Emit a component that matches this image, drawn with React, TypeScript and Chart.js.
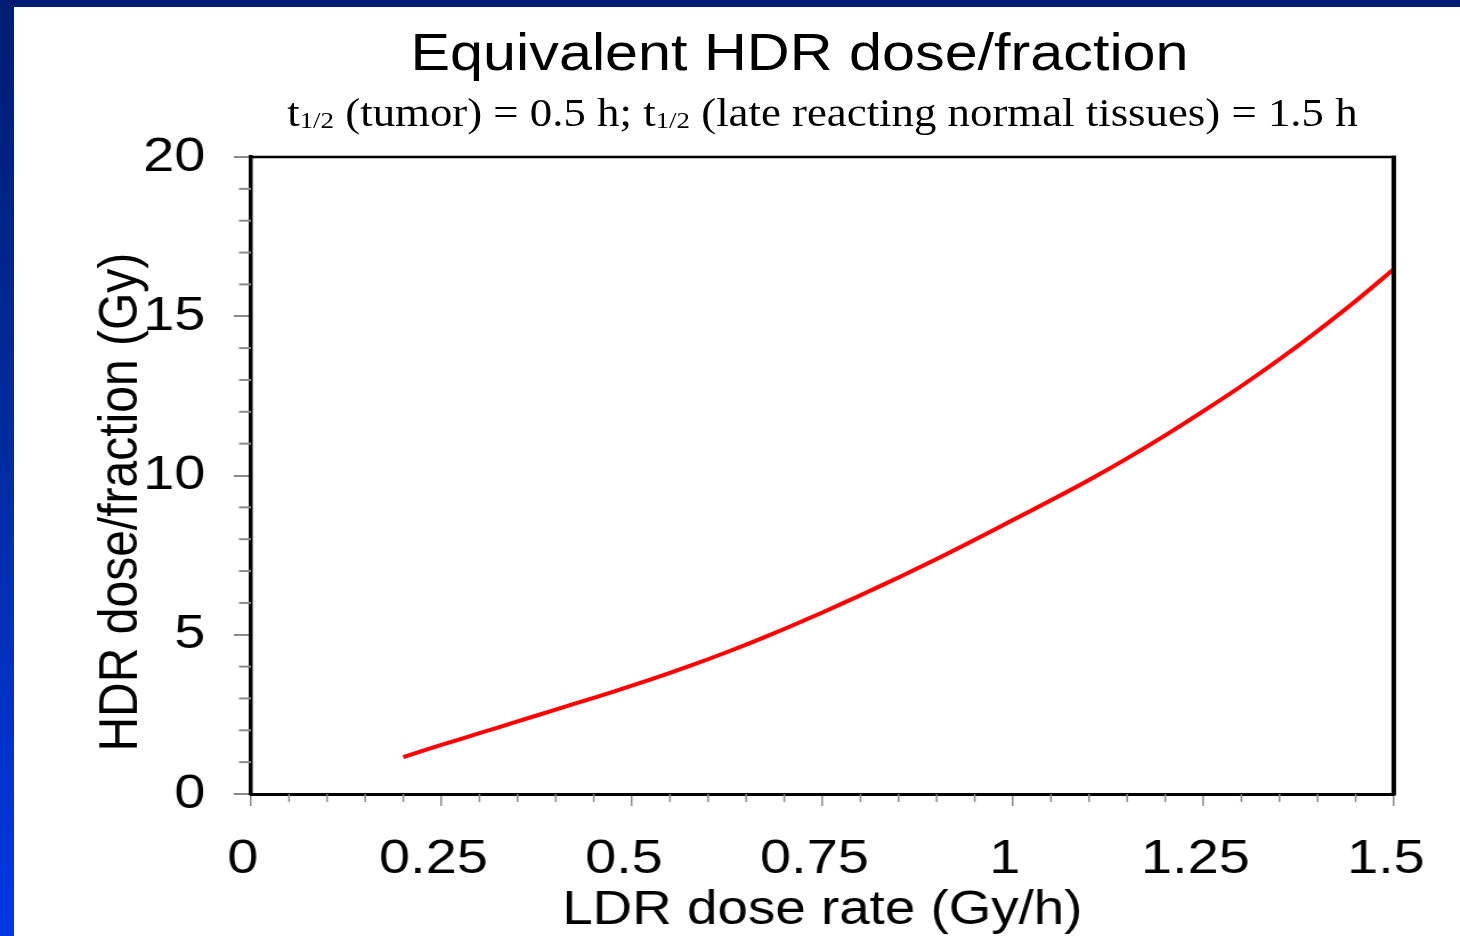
import React, { useEffect, useRef } from 'react';
import { Chart, registerables } from 'chart.js';

Chart.register(...registerables);

// ---- data ----
const LDR_DOSE_RATE = [
  0.2, 0.25, 0.3, 0.35, 0.4, 0.45, 0.5, 0.55, 0.6, 0.65, 0.7, 0.75, 0.8, 0.85,
  0.9, 0.95, 1.0, 1.05, 1.1, 1.15, 1.2, 1.25, 1.3, 1.35, 1.4, 1.45, 1.5,
];
const HDR_DOSE_PER_FRACTION = [
  1.16, 1.54, 1.91, 2.28, 2.65, 3.02, 3.4, 3.8, 4.23, 4.69, 5.18, 5.7, 6.24, 6.8,
  7.38, 7.98, 8.6, 9.22, 9.86, 10.54, 11.26, 12.02, 12.81, 13.65, 14.54, 15.48, 16.48,
];
const X_TICKS = [0, 0.25, 0.5, 0.75, 1, 1.25, 1.5];
const X_TICK_LABELS = ['0', '0.25', '0.5', '0.75', '1', '1.25', '1.5'];
const X_MINOR_TICKS = [
  0.05, 0.1, 0.15, 0.2, 0.3, 0.35, 0.4, 0.45, 0.55, 0.6, 0.65, 0.7, 0.8, 0.85,
  0.9, 0.95, 1.05, 1.1, 1.15, 1.2, 1.3, 1.35, 1.4, 1.45,
];
const Y_TICKS = [0, 5, 10, 15, 20];
const Y_TICK_LABELS = ['0', '5', '10', '15', '20'];
const Y_MINOR_TICKS = [1, 2, 3, 4, 6, 7, 8, 9, 11, 12, 13, 14, 16, 17, 18, 19];

const TITLE = 'Equivalent HDR dose/fraction';
const X_TITLE = 'LDR dose rate (Gy/h)';
const Y_TITLE = 'HDR dose/fraction (Gy)';

// ---- layout ----
const PAGE_W = 1460;
const PAGE_H = 936;
const INNER_W = 1280;
const STRETCH = PAGE_W / INNER_W;
const SANS = "'Liberation Sans', Arial, sans-serif";
const SERIF = "'Liberation Serif', 'Times New Roman', serif";

const framePlugin = {
  id: 'frame',
  afterDraw(chart: any) {
    const { ctx, chartArea, scales } = chart;
    const { left, right, top, bottom } = chartArea;
    const xs = scales.x;
    const ys = scales.y;
    ctx.save();
    ctx.strokeStyle = '#8a8a8a';
    ctx.lineWidth = 2;
    Y_MINOR_TICKS.forEach((v) => {
      const py = ys.getPixelForValue(v);
      ctx.beginPath();
      ctx.moveTo(left - 10.5, py);
      ctx.lineTo(left, py);
      ctx.stroke();
    });
    ctx.lineWidth = 1.5;
    X_MINOR_TICKS.forEach((v) => {
      const px = xs.getPixelForValue(v);
      ctx.beginPath();
      ctx.moveTo(px, bottom);
      ctx.lineTo(px, bottom + 8);
      ctx.stroke();
    });
    ctx.strokeStyle = '#000';
    ctx.lineWidth = 2.5;
    ctx.beginPath();
    ctx.moveTo(left, top);
    ctx.lineTo(right + 2, top);
    ctx.stroke();
    ctx.lineWidth = 4;
    ctx.beginPath();
    ctx.moveTo(right, top - 1.2);
    ctx.lineTo(right, bottom + 1.5);
    ctx.stroke();
    ctx.restore();
  },
};

export default function App() {
  const ref = useRef<HTMLCanvasElement>(null);

  useEffect(() => {
    if (!ref.current) return;
    const chart = new Chart(ref.current, {
      type: 'line',
      data: {
        datasets: [
          {
            data: LDR_DOSE_RATE.map((x, i) => ({ x, y: HDR_DOSE_PER_FRACTION[i] })),
            borderColor: '#ff0000',
            borderWidth: 4,
            pointRadius: 0,
            tension: 0.2,
            fill: false,
          },
        ],
      },
      options: {
        animation: false,
        responsive: false,
        devicePixelRatio: 1,
        layout: { padding: { left: 0, right: 58, top: 157, bottom: 0 } },
        plugins: {
          legend: { display: false },
          tooltip: { enabled: false },
          title: { display: false },
        },
        scales: {
          x: {
            type: 'linear',
            min: 0,
            max: 1.5,
            afterBuildTicks: (s: any) => {
              s.ticks = X_TICKS.map((v) => ({ value: v }));
            },
            afterFit: (s: any) => {
              s.height = 142;
            },
            ticks: {
              callback: (v: any) => X_TICK_LABELS[X_TICKS.indexOf(Number(v))],
              padding: 24,
              labelOffset: -7,
              maxRotation: 0,
              autoSkip: false,
              color: '#000',
              font: { family: SANS, size: 49 },
            },
            grid: {
              display: true,
              drawOnChartArea: false,
              drawTicks: true,
              tickLength: 12,
              color: '#8a8a8a',
              lineWidth: 1.5,
            },
            border: { display: true, color: '#000', width: 3 },
            title: {
              display: true,
              text: X_TITLE,
              color: '#000',
              font: { family: SANS, size: 48, lineHeight: 1 },
              padding: { top: 0, bottom: 1 },
            },
          },
          y: {
            type: 'linear',
            min: 0,
            max: 20,
            afterBuildTicks: (s: any) => {
              s.ticks = Y_TICKS.map((v) => ({ value: v }));
            },
            afterFit: (s: any) => {
              s.width = 220;
            },
            ticks: {
              callback: (v: any) => Y_TICK_LABELS[Y_TICKS.indexOf(Number(v))],
              padding: 25,
              color: '#000',
              font: { family: SANS, size: 49 },
            },
            grid: {
              display: true,
              drawOnChartArea: false,
              drawTicks: true,
              tickLength: 15,
              color: '#8a8a8a',
              lineWidth: 2,
            },
            border: { display: true, color: '#000', width: 3.5 },
            title: {
              display: true,
              text: Y_TITLE + '    ',
              color: '#000',
              font: { family: SANS, size: 48, lineHeight: 1.2 },
              padding: { top: 78, bottom: 0 },
            },
          },
        },
      },
      plugins: [framePlugin],
    } as any);
    return () => chart.destroy();
  }, []);

  const subStyle: React.CSSProperties = {
    fontSize: '0.6em',
    position: 'relative',
    top: '2px',
  };

  return (
    <div
      style={{
        position: 'fixed',
        left: 0,
        top: 0,
        width: PAGE_W,
        height: PAGE_H,
        overflow: 'hidden',
        background: 'linear-gradient(180deg, #001c72 0%, #002a9c 45%, #0038e4 100%)',
      }}
    >
      <div
        style={{
          position: 'absolute',
          left: 14,
          top: 7,
          right: 0,
          bottom: 0,
          background: '#ffffff',
        }}
      />
      <div
        style={{
          position: 'absolute',
          left: 0,
          top: 0,
          width: INNER_W,
          height: PAGE_H,
          transform: `scaleX(${STRETCH})`,
          transformOrigin: '0 0',
        }}
      >
        <canvas
          ref={ref}
          width={INNER_W}
          height={PAGE_H}
          style={{ position: 'absolute', left: 0, top: 0, display: 'block' }}
        />
        <div
          style={{
            position: 'absolute',
            left: 0,
            top: 26,
            width: 1402,
            textAlign: 'center',
            fontFamily: SANS,
            fontSize: 52,
            lineHeight: 1,
            color: '#000',
            whiteSpace: 'nowrap',
          }}
        >
          {TITLE}
        </div>
        <div
          style={{
            position: 'absolute',
            left: 0,
            top: 94,
            width: 1442,
            textAlign: 'center',
            fontFamily: SERIF,
            fontSize: 39.3,
            lineHeight: 1,
            color: '#000',
            whiteSpace: 'pre',
          }}
        >
          {'t'}
          <span style={subStyle}>1/2</span>
          {' (tumor) = 0.5 h; t'}
          <span style={subStyle}>1/2</span>
          {' (late reacting normal tissues) = 1.5 h'}
        </div>
      </div>
    </div>
  );
}
